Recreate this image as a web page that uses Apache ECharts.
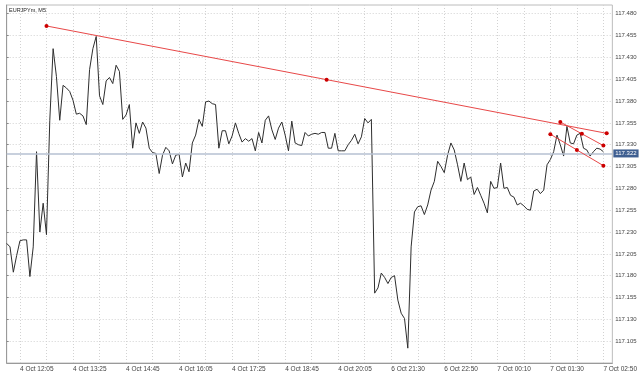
<!DOCTYPE html>
<html><head><meta charset="utf-8">
<script src="https://cdn.jsdelivr.net/npm/echarts@6/dist/echarts.min.js"></script>
<style>html,body{margin:0;padding:0;background:#fff}#c{width:640px;height:374px}</style>
</head><body><div id="c"></div>
<script>
const symbolName = 'EURJPYm, M5';
// M5 close prices, one per bar (index 0 = 4 Oct 11:45, index 111 = 6 Oct 21:05)
const closePrices = [
117.217,117.213,117.184,117.203,117.220,117.221,117.221,117.179,117.213,117.322,
117.230,117.263,117.227,117.358,117.440,117.408,117.358,117.398,117.395,117.391,
117.381,117.365,117.366,117.363,117.353,117.416,117.440,117.454,117.386,117.376,
117.403,117.407,117.400,117.421,117.414,117.359,117.364,117.376,117.326,117.355,
117.343,117.356,117.349,117.326,117.321,117.320,117.297,117.318,117.327,117.323,
117.308,117.318,117.319,117.293,117.309,117.299,117.332,117.341,117.359,117.351,
117.379,117.380,117.377,117.376,117.326,117.346,117.346,117.331,117.340,117.355,
117.343,117.333,117.337,117.334,117.337,117.323,117.344,117.332,117.358,117.363,
117.347,117.336,117.349,117.356,117.341,117.323,117.357,117.332,117.330,117.329,
117.344,117.340,117.342,117.343,117.342,117.344,117.344,117.326,117.326,117.343,
117.323,117.323,117.323,117.330,117.335,117.342,117.331,117.339,117.360,117.355,
117.359,
117.160,117.166,117.183,117.178,117.171,117.178,117.180,117.152,117.137,117.131,
117.097,117.213,117.253,117.259,117.260,117.250,117.261,117.278,117.288,117.311,
117.305,117.298,117.318,117.332,117.324,117.307,117.288,117.309,117.290,117.293,
117.273,117.281,117.272,117.263,117.252,117.288,117.280,117.281,117.309,117.280,
117.281,117.272,117.270,117.261,117.263,117.260,117.256,117.255,117.277,117.279,
117.274,117.278,117.307,117.313,117.322,117.341,117.330,117.317,117.351,117.332,
117.331,117.341,117.343,117.326,117.324,117.317,117.322,117.326,117.325,117.322
];
const bidPrice = 117.322;
const xLabelIndex = [4,20,36,52,68,84,100,116,132,148,164,180];
const xLabelText = ['4 Oct 12:05','4 Oct 13:25','4 Oct 14:45','4 Oct 16:05','4 Oct 17:25','4 Oct 18:45',
  '4 Oct 20:05','6 Oct 21:30','6 Oct 22:50','7 Oct 00:10','7 Oct 01:30','7 Oct 02:50'];
const yTickValues = [117.105,117.130,117.155,117.180,117.205,117.230,117.255,117.280,
  117.305,117.330,117.355,117.380,117.405,117.430,117.455,117.480];
// trend lines: [bar index, price] for start, middle handle, end
const trendLong = [[12,117.466],[96.5,117.4045],[181,117.343]];
const trendUpper = [[167,117.356],[173.5,117.3425],[180,117.329]];
const trendLower = [[164,117.342],[172,117.324],[180,117.306]];

const xGridIndex = [];
xLabelIndex.forEach(function(v){ xGridIndex.push(v); if (v + 8 <= 182) xGridIndex.push(v + 8); });

const font = 'Liberation Sans, Arial, sans-serif';
const chart = echarts.init(document.getElementById('c'));
function trend(data){
  return {type:'line', data:data, z:5, symbol:'circle', symbolSize:4, showSymbol:true,
    itemStyle:{color:'#cc0000'}, lineStyle:{color:'#e84848', width:1}, silent:true, animation:false};
}
chart.setOption({
  animation:false,
  backgroundColor:'#ffffff',
  textStyle:{fontFamily:font},
  graphic:[{type:'text', left:9, top:7, style:{text:symbolName, fontSize:5.5, fill:'#222', fontFamily:font}}],
  grid:{left:6.7, right:26, top:5, bottom:11, show:true, borderColor:'#bcbcbc', borderWidth:1, backgroundColor:'#fff'},
  xAxis:{type:'value', min:0, max:182.7,
    axisLine:{show:true, lineStyle:{color:'#9a9a9a'}},
    axisTick:{show:false, customValues:xGridIndex},
    splitLine:{show:true, lineStyle:{color:'#d2d2d2', type:[1,2], width:1}},
    axisLabel:{customValues:xLabelIndex, align:'left', fontSize:6.5, color:'#444', margin:3, hideOverlap:false,
      showMinLabel:true, showMaxLabel:true,
      formatter:function(v){ var k = xLabelIndex.indexOf(Math.round(v)); return k >= 0 ? xLabelText[k] : ''; }}
  },
  yAxis:{type:'value', position:'right', min:117.080, max:117.490,
    axisLine:{show:true, lineStyle:{color:'#9a9a9a'}},
    axisTick:{show:true, customValues:yTickValues, length:2, lineStyle:{color:'#888'}},
    splitLine:{show:true, lineStyle:{color:'#d2d2d2', type:[1,2], width:1}},
    axisLabel:{customValues:yTickValues, fontSize:6, color:'#444', margin:3,
      formatter:function(v){ return v.toFixed(3); }}
  },
  series:[
    {type:'line', data:[], z:1, silent:true,
      markLine:{silent:true, symbol:['none','none'], animation:false,
        lineStyle:{color:'#b6c0d2', width:1.5, type:'solid'},
        label:{show:true, position:'end', distance:1, formatter:bidPrice.toFixed(3), color:'#fff',
          backgroundColor:'#3f5f91', padding:[1,2,1,2], fontSize:6, fontFamily:font},
        data:[{yAxis:bidPrice}]}},
    {type:'line', data:closePrices.map(function(v,i){return [i,v];}), z:3, showSymbol:false, symbol:'none',
      lineStyle:{color:'#2e2e2e', width:1}, silent:true},
    trend(trendLong), trend(trendUpper), trend(trendLower)
  ]
});
</script></body></html>
